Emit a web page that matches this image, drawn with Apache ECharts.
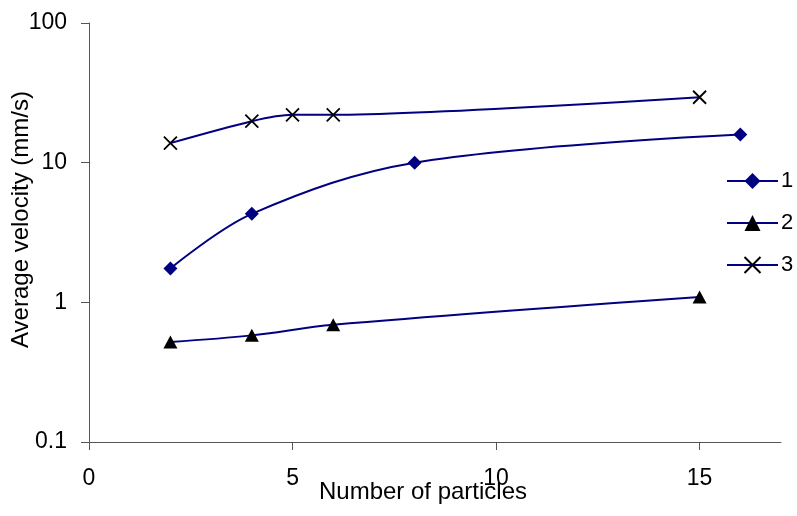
<!DOCTYPE html>
<html>
<head>
<meta charset="utf-8">
<script src="https://cdn.jsdelivr.net/npm/echarts@6/dist/echarts.min.js"></script>
<style>html,body{margin:0;padding:0;background:#fff}#c{width:797px;height:516px}</style>
</head>
<body>
<div id="c"></div>
<script>
const xTicks = [0, 5, 10, 15];
const yTickLabels = ['0.1', '1', '10', '100'];
const seriesNames = ['1', '2', '3'];
const x1 = [2, 4, 8, 16];
const v1 = [1.75, 4.3, 10, 15.9];
const x2 = [2, 4, 6, 15];
const v2 = [0.52, 0.58, 0.69, 1.09];
const x3 = [2, 4, 5, 6, 15];
const v3 = [13.8, 19.8, 22, 22, 29.4];

const FONT = '"Liberation Sans", Arial, sans-serif';
const NAVY = '#000080';
const pair = (xs, ys) => xs.map((x, i) => [x, ys[i]]);

const chart = echarts.init(document.getElementById('c'), null, {renderer: 'canvas'});
chart.setOption({
  animation: false,
  grid: {left: 89, top: 23, right: 16, bottom: 74, containLabel: false, outerBoundsMode: 'none'},
  legend: {
    orient: 'vertical', left: 726, top: 170, padding: 0,
    itemWidth: 51, itemHeight: 20, itemGap: 20,
    textStyle: {fontFamily: FONT, fontSize: 22, color: '#000', padding: [0, 0, 0, -2]},
    data: seriesNames
  },
  xAxis: {
    type: 'value', min: 0, max: 17,
    name: 'Number of particles', nameLocation: 'middle', nameGap: 38, nameMoveOverlap: false,
    nameTextStyle: {fontFamily: FONT, fontSize: 24, color: '#000', padding: [0, 24, 0, 0]},
    axisLine: {show: true, onZero: false, lineStyle: {color: '#555', width: 1}},
    axisTick: {show: true, length: 8, lineStyle: {color: '#555'}, customValues: xTicks},
    axisLabel: {fontFamily: FONT, fontSize: 23, color: '#000', margin: 25, customValues: xTicks},
    splitLine: {show: false}
  },
  yAxis: {
    type: 'log', logBase: 10, min: 0.1, max: 100,
    name: 'Average velocity (mm/s)', nameLocation: 'middle', nameGap: 56, nameMoveOverlap: false,
    nameTextStyle: {fontFamily: FONT, fontSize: 24, color: '#000', padding: [0, 0, 0, 26]},
    axisLine: {show: true, lineStyle: {color: '#555', width: 1}},
    axisTick: {show: true, length: 8, lineStyle: {color: '#555'}},
    axisLabel: {fontFamily: FONT, fontSize: 23, color: '#000', margin: 22,
      formatter: function (v) { const i = Math.round(Math.log10(v)) + 1; return yTickLabels[i] !== undefined ? yTickLabels[i] : String(v); }},
    splitLine: {show: false},
    minorTick: {show: false}
  },
  series: [
    {
      name: seriesNames[0], type: 'line', data: pair(x1, v1), smooth: 0.35,
      symbol: 'diamond', symbolSize: 14,
      lineStyle: {color: NAVY, width: 2},
      itemStyle: {color: NAVY}
    },
    {
      name: seriesNames[1], type: 'line', data: pair(x2, v2), smooth: 0.35,
      symbol: 'triangle', symbolSize: [14, 13],
      lineStyle: {color: NAVY, width: 2},
      itemStyle: {color: '#000'}
    },
    {
      name: seriesNames[2], type: 'line', data: pair(x3, v3), smooth: 0.25,
      symbol: 'path://M0,0L10,10M10,0L0,10', symbolSize: 13,
      lineStyle: {color: NAVY, width: 2},
      itemStyle: {color: 'rgba(0,0,0,0)', borderColor: '#000', borderWidth: 1.8}
    }
  ]
});
</script>
</body>
</html>
